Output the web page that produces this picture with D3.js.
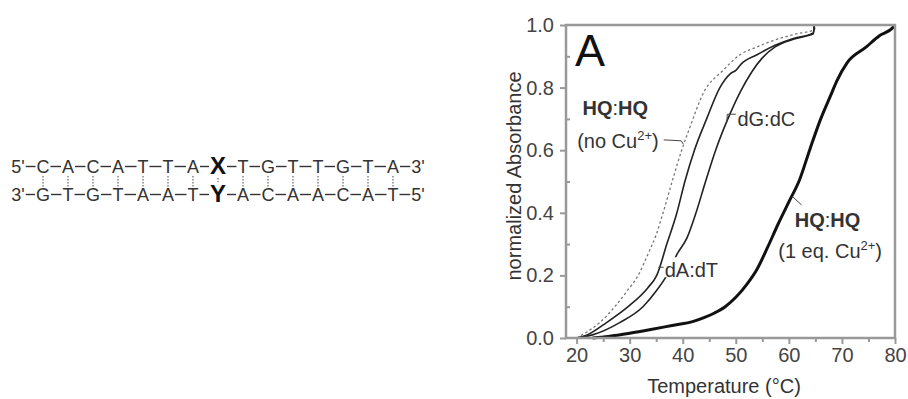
<!DOCTYPE html>
<html>
<head>
<meta charset="utf-8">
<script src="https://cdn.jsdelivr.net/npm/d3@7"></script>
<style>
  body { margin: 0; background: #fff; }
  svg { display: block; font-family: "Liberation Sans", Arial, sans-serif; }
  .tick text { fill: #444; font-size: 20px; }
  .lbl { fill: #333; font-size: 20px; }
</style>
</head>
<body>
<svg id="fig" width="908" height="399"></svg>
<script>
// strands of the duplex
const topStrand = ["5'", "C", "A", "C", "A", "T", "T", "A", "X", "T", "G", "T", "T", "G", "T", "A", "3'"];
const bottomStrand = ["3'", "G", "T", "G", "T", "A", "A", "T", "Y", "A", "C", "A", "A", "C", "A", "T", "5'"];

// tick values
const tempTicks = [20, 30, 40, 50, 60, 70, 80];
const tempMinor = [25, 35, 45, 55, 65, 75];
const absTicks = [0, 0.2, 0.4, 0.6, 0.8, 1.0];
const absMinor = [0.1, 0.3, 0.5, 0.7, 0.9];

// melting curves, [temperature, normalized absorbance]
const hqNoCu = [[20, 0], [22, 0.02], [24.4, 0.05], [27.2, 0.1], [29.5, 0.15], [31.6, 0.2], [33.5, 0.27],
  [35, 0.33], [36.3, 0.4], [38, 0.5], [39.8, 0.6], [41.5, 0.68], [43.8, 0.78], [47.6, 0.855],
  [50.8, 0.905], [54, 0.93], [57, 0.95], [61, 0.97], [64.8, 0.985], [65, 1.0]];
const dAdT = [[20, 0], [22, 0.01], [25.7, 0.05], [29.7, 0.1], [33.4, 0.16], [35.1, 0.2], [37, 0.3],
  [38.9, 0.4], [40.4, 0.5], [42.2, 0.6], [44.5, 0.7], [47, 0.8], [49, 0.845], [50, 0.855], [51, 0.875],
  [54, 0.905], [57.4, 0.935], [61, 0.958], [64, 0.97], [64.6, 0.975], [64.8, 1.0]];
const dGdC = [[20, 0], [23, 0.01], [28.2, 0.05], [32.5, 0.1], [35, 0.15], [37, 0.2], [39, 0.27],
  [40.8, 0.32], [42.5, 0.4], [44.3, 0.5], [46.2, 0.6], [48.5, 0.7], [50.8, 0.785], [53, 0.85],
  [55, 0.895], [57.4, 0.93], [61, 0.955], [64, 0.968], [64.6, 0.972], [64.8, 1.0]];
const hqCu = [[23, 0], [26, 0.005], [30, 0.015], [34, 0.027], [38, 0.04], [42, 0.053], [44, 0.065],
  [46, 0.08], [48, 0.1], [50, 0.13], [52, 0.17], [54, 0.22], [56, 0.29], [58, 0.365], [60, 0.435],
  [62, 0.505], [64, 0.605], [66, 0.7], [68, 0.78], [69, 0.82], [71, 0.88], [74.6, 0.93], [77, 0.965],
  [79.5, 0.99], [80, 1.0]];

const svg = d3.select("#fig");

// ---------- duplex sequence ----------
const COLS = d3.scalePoint().domain(d3.range(topStrand.length)).range([18, 418]);
const SEQ = svg.append("g");

function strand(bases, base, mid) {
  const g = SEQ.append("g");
  const txt = g.selectAll("text")
    .data(bases)
    .enter()
    .append("text")
    .attr("x", (d, i) => COLS(i))
    .attr("y", (d) => (d == "X" || d == "Y") ? base + 1 : base)
    .attr("text-anchor", "middle")
    .attr("fill", (d) => (d == "X" || d == "Y") ? "#111" : "#333")
    .attr("font-size", (d) => (d == "X" || d == "Y") ? "24px" : "18px")
    .attr("font-weight", (d) => (d == "X" || d == "Y") ? "bold" : "normal")
    .text((d) => d);
  const w = txt.nodes().map((n) => n.getComputedTextLength());
  d3.range(bases.length - 1).forEach((i) => {
    g.append("line")
      .attr("x1", COLS(i) + w[i] / 2 + 1)
      .attr("x2", COLS(i + 1) - w[i + 1] / 2 - 1)
      .attr("y1", mid).attr("y2", mid)
      .attr("stroke", "#333").attr("stroke-width", 1.4);
  });
}
strand(topStrand, 173, 166.5);
strand(bottomStrand, 201, 194.5);

SEQ.selectAll(".pair")
  .data(d3.range(1, topStrand.length - 1))
  .enter()
  .append("line")
  .attr("x1", (i) => COLS(i)).attr("x2", (i) => COLS(i))
  .attr("y1", (i) => i == 8 ? 178 : 176)
  .attr("y2", (i) => i == 8 ? 182 : 187)
  .attr("stroke", "#666")
  .attr("stroke-width", 1.2)
  .attr("stroke-dasharray", "1.5,1.5");

// ---------- melting plot ----------
const X_SCALE = d3.scaleLinear().domain([18, 80]).range([566, 895]);
const Y_SCALE = d3.scaleLinear().domain([0, 1]).range([338, 25]);

const line = d3.line()
  .x((d) => X_SCALE(d[0]))
  .y((d) => Y_SCALE(d[1]))
  .curve(d3.curveMonotoneX);

const PLOT = svg.append("g");

PLOT.append("path").datum(hqNoCu).attr("d", line)
  .attr("fill", "none").attr("stroke", "#777").attr("stroke-width", 1.3).attr("stroke-dasharray", "2.5,2.5");
PLOT.append("path").datum(dAdT).attr("d", line)
  .attr("fill", "none").attr("stroke", "#222").attr("stroke-width", 1.6);
PLOT.append("path").datum(dGdC).attr("d", line)
  .attr("fill", "none").attr("stroke", "#222").attr("stroke-width", 1.6);
PLOT.append("path").datum(hqCu).attr("d", line)
  .attr("fill", "none").attr("stroke", "#111").attr("stroke-width", 3);

// axes
function styleAxis(g) {
  g.select(".domain").remove();
  g.selectAll(".tick line").attr("stroke", "#999").attr("stroke-width", 2);
}
PLOT.append("g")
  .attr("transform", "translate(0," + Y_SCALE(0) + ")")
  .call(d3.axisBottom(X_SCALE).tickValues(tempTicks).tickSize(6).tickPadding(4))
  .call(styleAxis);
PLOT.append("g")
  .attr("transform", "translate(0," + Y_SCALE(0) + ")")
  .call(d3.axisBottom(X_SCALE).tickValues(tempMinor).tickSize(4).tickFormat(""))
  .call(styleAxis);
PLOT.append("g")
  .attr("transform", "translate(" + X_SCALE(18) + ",0)")
  .call(d3.axisLeft(Y_SCALE).tickValues(absTicks).tickSize(6).tickPadding(6).tickFormat(d3.format(".1f")))
  .call(styleAxis);
PLOT.append("g")
  .attr("transform", "translate(" + X_SCALE(18) + ",0)")
  .call(d3.axisRight(Y_SCALE).tickValues(absMinor).tickSize(4).tickFormat(""))
  .call(styleAxis);

PLOT.append("rect")
  .attr("x", X_SCALE(18)).attr("y", Y_SCALE(1))
  .attr("width", X_SCALE(80) - X_SCALE(18))
  .attr("height", Y_SCALE(0) - Y_SCALE(1))
  .attr("fill", "none").attr("stroke", "#999").attr("stroke-width", 2.5);

PLOT.append("text").attr("class", "lbl")
  .attr("x", 724).attr("y", 393).attr("text-anchor", "middle")
  .attr("font-size", "21px").text("Temperature (°C)");
PLOT.append("text").attr("class", "lbl")
  .attr("transform", "translate(521,176) rotate(-90)")
  .attr("text-anchor", "middle").attr("font-size", "21px")
  .text("normalized Absorbance");

PLOT.append("text").attr("x", X_SCALE(19.7)).attr("y", Y_SCALE(0.868))
  .attr("fill", "#111").attr("font-size", "45px").text("A");

// annotations
function leader(pts) {
  PLOT.append("path")
    .attr("d", d3.line().x((d) => X_SCALE(d[0])).y((d) => Y_SCALE(d[1]))(pts))
    .attr("fill", "none").attr("stroke", "#444").attr("stroke-width", 1);
}
function cuLabel(x, y, head) {
  const t = PLOT.append("text").attr("class", "lbl").attr("x", X_SCALE(x)).attr("y", Y_SCALE(y));
  t.append("tspan").text(head + "Cu");
  t.append("tspan").attr("font-size", "13px").attr("dy", -8).text("2+");
  t.append("tspan").attr("dy", 8).text(")");
}
function hqLabel(x, y) {
  const t = PLOT.append("text").attr("class", "lbl").attr("x", X_SCALE(x)).attr("y", Y_SCALE(y));
  t.append("tspan").attr("font-weight", "bold").text("HQ");
  t.append("tspan").text(":");
  t.append("tspan").attr("font-weight", "bold").text("HQ");
}

hqLabel(21.1, 0.712);
cuLabel(20.1, 0.607, "(no ");
leader([[36.4, 0.633], [39.7, 0.63], [40.1, 0.62]]);

const dAlbl = PLOT.append("g");
dAlbl.append("rect").attr("x", X_SCALE(36.6)).attr("y", Y_SCALE(0.258))
  .attr("width", 56).attr("height", 20).attr("fill", "#fff");
dAlbl.append("text").attr("class", "lbl")
  .attr("x", X_SCALE(36.6)).attr("y", Y_SCALE(0.195)).text("dA:dT");
leader([[35.4, 0.226], [36.4, 0.226]]);

PLOT.append("text").attr("class", "lbl")
  .attr("x", X_SCALE(50.3)).attr("y", Y_SCALE(0.678)).text("dG:dC");
leader([[48.3, 0.69], [48.4, 0.715], [50, 0.715]]);

hqLabel(61.1, 0.355);
cuLabel(58, 0.256, "(1 eq. ");
leader([[60.8, 0.45], [62.4, 0.425]]);
</script>
</body>
</html>
